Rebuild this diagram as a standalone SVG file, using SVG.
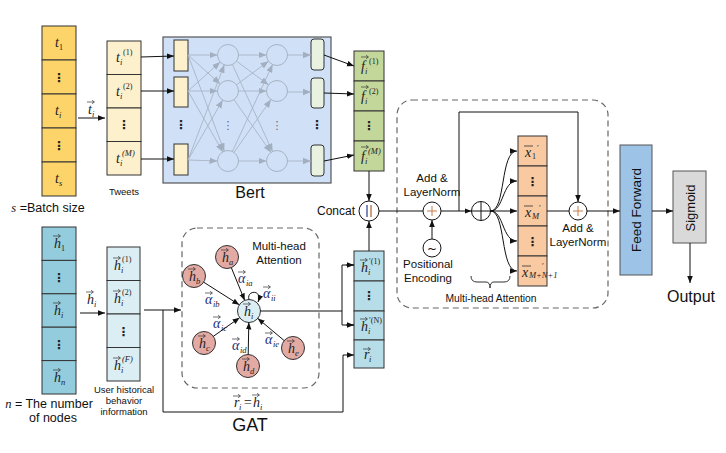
<svg xmlns="http://www.w3.org/2000/svg" xmlns:xlink="http://www.w3.org/1999/xlink" width="726" height="453" viewBox="0 0 726 453">
<defs>
<style>
.bx{stroke:#333;stroke-width:1}
.m{font-family:"Liberation Serif",serif;font-style:italic;font-size:14px;fill:#222}
.s{font-family:"Liberation Serif",serif;font-style:italic;font-size:8.5px;fill:#222}
.su{font-family:"Liberation Serif",serif;font-size:8px;fill:#222}
.al{font-family:"Liberation Serif",serif;font-style:italic;font-size:14px;fill:#1d2f7a}
.d{font-family:"DejaVu Sans",sans-serif;font-size:12px;font-weight:bold;fill:#222;text-anchor:middle}
.dg{font-family:"DejaVu Sans",sans-serif;font-size:11px;fill:#667;text-anchor:middle}
.t{font-family:"Liberation Sans",Arial,sans-serif;fill:#111}
.ln{stroke:#111;stroke-width:1;fill:none}
.gl{stroke:#a9b4c4;stroke-width:0.9;fill:none}
.dash{fill:none;stroke:#666;stroke-width:1.2;stroke-dasharray:6 4}
</style>
<marker id="ah" viewBox="0 0 10 10" refX="10" refY="5" markerWidth="7" markerHeight="7" orient="auto" markerUnits="userSpaceOnUse"><path d="M0,1 L10,5 L0,9 z" fill="#111"/></marker>
<marker id="ag" viewBox="0 0 10 10" refX="10" refY="5" markerWidth="8" markerHeight="8" orient="auto" markerUnits="userSpaceOnUse"><path d="M0,1 L10,5 L0,9 z" fill="#a3afc0"/></marker>
<path id="va" d="M0,0 H7 M5,-1.7 L7.5,0 L5,1.7" fill="none" stroke="#333" stroke-width="0.7"/>
<path id="ov" d="M0,0 H9" fill="none" stroke="#333" stroke-width="0.8"/>
</defs>
<rect width="726" height="453" fill="#fff"/>

<g id="batch-tweets">
<rect class="bx" x="42" y="26" width="34" height="34" fill="#fcd46a"/>
<rect class="bx" x="42" y="60" width="34" height="34" fill="#fcd46a"/>
<rect class="bx" x="42" y="94" width="34" height="34" fill="#fcd46a"/>
<rect class="bx" x="42" y="128" width="34" height="34" fill="#fcd46a"/>
<rect class="bx" x="42" y="162" width="34" height="34" fill="#fcd46a"/>
<text class="m" x="55" y="47">t</text><text class="su" x="59" y="50">1</text>
<text class="d" x="59" y="82">⋮</text>
<text class="m" x="55" y="115">t</text><text class="s" x="59" y="118">i</text>
<text class="d" x="59" y="150">⋮</text>
<text class="m" x="55" y="183">t</text><text class="s" x="59" y="186">s</text>
<text class="t" x="48" y="212" font-size="12.5" text-anchor="middle"><tspan font-family="Liberation Serif" font-style="italic">s</tspan> =Batch size</text>
</g>

<g id="tweets">
<rect class="bx" x="107" y="41" width="34" height="33.5" fill="#fdf0cc"/>
<rect class="bx" x="107" y="74.5" width="34" height="33.5" fill="#fdf0cc"/>
<rect class="bx" x="107" y="108" width="34" height="33.5" fill="#fdf0cc"/>
<rect class="bx" x="107" y="141.5" width="34" height="33.5" fill="#fdf0cc"/>
<text class="m" x="116" y="62">t</text><text class="s" x="120" y="65">i</text><text class="su" x="123" y="55">(1)</text>
<text class="m" x="116" y="96">t</text><text class="s" x="120" y="99">i</text><text class="su" x="123" y="89">(2)</text>
<text class="d" x="124" y="129">⋮</text>
<text class="m" x="116" y="163">t</text><text class="s" x="120" y="166">i</text><text class="s" x="122" y="156">(M)</text>
<text class="t" x="124" y="195" font-size="9.5" text-anchor="middle">Tweets</text>
</g>

<g id="bert">
<rect x="163" y="37" width="168" height="146" fill="#cfe0f7" stroke="#555" stroke-width="1.2"/>
<rect class="bx" x="174" y="40" width="14" height="31" fill="#fdf0cc"/>
<rect class="bx" x="174" y="77" width="14" height="30" fill="#fdf0cc"/>
<rect class="bx" x="174" y="144" width="14" height="31" fill="#fdf0cc"/>
<g fill="none" stroke="#a9b4c4" stroke-width="1">
<circle cx="228" cy="55" r="10.5"/><circle cx="228" cy="91" r="10.5"/><circle cx="228" cy="161" r="10.5"/>
<circle cx="277" cy="55" r="10.5"/><circle cx="277" cy="91" r="10.5"/><circle cx="277" cy="161" r="10.5"/>
</g>
<rect class="bx" x="311" y="39" width="13" height="31" rx="3" fill="#e9f1e1"/>
<rect class="bx" x="311" y="78" width="13" height="30" rx="3" fill="#e9f1e1"/>
<rect class="bx" x="311" y="145" width="13" height="31" rx="3" fill="#e9f1e1"/>
<text class="d" x="181" y="129">⋮</text>
<text class="dg" x="228" y="129">⋮</text>
<text class="dg" x="277" y="129">⋮</text>
<text class="d" x="317" y="129">⋮</text>
<text class="t" x="250" y="198" font-size="16" text-anchor="middle">Bert</text>
</g>

<g id="f-vectors">
<rect class="bx" x="354" y="51" width="30" height="30" fill="#c4d79b"/>
<rect class="bx" x="354" y="81" width="30" height="30" fill="#c4d79b"/>
<rect class="bx" x="354" y="111" width="30" height="30" fill="#c4d79b"/>
<rect class="bx" x="354" y="141" width="30" height="30" fill="#c4d79b"/>
<use href="#va" x="361" y="57"/><text class="m" x="361" y="71">f</text><text class="s" x="365" y="74">i</text><text class="su" x="369" y="64">(1)</text>
<use href="#va" x="361" y="87"/><text class="m" x="361" y="101">f</text><text class="s" x="365" y="104">i</text><text class="su" x="369" y="94">(2)</text>
<text class="d" x="369" y="130">⋮</text>
<use href="#va" x="361" y="147"/><text class="m" x="361" y="161">f</text><text class="s" x="365" y="164">i</text><text class="s" x="368" y="154">(M)</text>
</g>

<g id="concat">
<circle cx="369" cy="211" r="10" fill="#fff" stroke="#111" stroke-width="1"/>
<line x1="367" y1="205" x2="367" y2="217" stroke="#2a3d8f" stroke-width="1.2"/>
<line x1="371" y1="205" x2="371" y2="217" stroke="#b0602a" stroke-width="1.2"/>
<text class="t" x="355" y="215" font-size="12" text-anchor="end">Concat</text>
</g>

<g id="nodes-h">
<rect class="bx" x="42" y="227" width="34" height="33.4" fill="#93cddd"/>
<rect class="bx" x="42" y="260.4" width="34" height="33.4" fill="#93cddd"/>
<rect class="bx" x="42" y="293.8" width="34" height="33.4" fill="#93cddd"/>
<rect class="bx" x="42" y="327.2" width="34" height="33.4" fill="#93cddd"/>
<rect class="bx" x="42" y="360.6" width="34" height="33.4" fill="#93cddd"/>
<use href="#va" x="53" y="236"/><text class="m" x="54" y="248">h</text><text class="su" x="61" y="251">1</text>
<text class="d" x="59" y="282">⋮</text>
<use href="#va" x="53" y="303"/><text class="m" x="54" y="315">h</text><text class="s" x="61" y="318">i</text>
<text class="d" x="59" y="349">⋮</text>
<use href="#va" x="53" y="370"/><text class="m" x="54" y="382">h</text><text class="s" x="61" y="385">n</text>
<text class="t" x="49" y="408" font-size="12.5" text-anchor="middle"><tspan font-family="Liberation Serif" font-style="italic">n</tspan> = The number</text>
<text class="t" x="53" y="422" font-size="12.5" text-anchor="middle">of nodes</text>
</g>

<g id="user-history">
<rect class="bx" x="107" y="247" width="33" height="33.5" fill="#dbeef4"/>
<rect class="bx" x="107" y="280.5" width="33" height="33.5" fill="#dbeef4"/>
<rect class="bx" x="107" y="314" width="33" height="33.5" fill="#dbeef4"/>
<rect class="bx" x="107" y="347.5" width="33" height="33.5" fill="#dbeef4"/>
<use href="#va" x="113" y="258"/><text class="m" x="114" y="270">h</text><text class="s" x="121" y="273">i</text><text class="su" x="122" y="262">(1)</text>
<use href="#va" x="113" y="291"/><text class="m" x="114" y="303">h</text><text class="s" x="121" y="306">i</text><text class="su" x="122" y="295">(2)</text>
<text class="d" x="123.5" y="336">⋮</text>
<use href="#va" x="113" y="358"/><text class="m" x="114" y="370">h</text><text class="s" x="121" y="373">i</text><text class="s" x="122" y="362">(F)</text>
<text class="t" x="124" y="393" font-size="9.5" text-anchor="middle">User historical</text>
<text class="t" x="124" y="404" font-size="9.5" text-anchor="middle">behavior</text>
<text class="t" x="124" y="415" font-size="9.5" text-anchor="middle">information</text>
</g>

<g id="gat">
<rect class="dash" x="182" y="228" width="137" height="160" rx="15"/>
<text class="t" x="279" y="250" font-size="11.5" text-anchor="middle">Multi-head</text>
<text class="t" x="279" y="264" font-size="11.5" text-anchor="middle">Attention</text>
<g stroke="#333" stroke-width="1" fill="#e3aaa3">
<circle cx="227" cy="257" r="11.5"/><circle cx="194" cy="276" r="11.5"/><circle cx="204" cy="343" r="11.5"/><circle cx="248" cy="366" r="11.5"/><circle cx="293" cy="348" r="11.5"/>
</g>
<circle cx="249" cy="311" r="11.5" fill="#dbeef4" stroke="#333" stroke-width="1"/>
<use href="#va" x="221" y="250"/><text class="m" x="222" y="262">h</text><text class="s" x="229" y="265">a</text>
<use href="#va" x="188" y="269"/><text class="m" x="189" y="281">h</text><text class="s" x="196" y="284">b</text>
<use href="#va" x="198" y="336"/><text class="m" x="199" y="348">h</text><text class="s" x="206" y="351">c</text>
<use href="#va" x="242" y="359"/><text class="m" x="243" y="371">h</text><text class="s" x="250" y="374">d</text>
<use href="#va" x="287" y="341"/><text class="m" x="288" y="353">h</text><text class="s" x="295" y="356">e</text>
<use href="#va" x="243" y="304"/><text class="m" x="244" y="316">h</text><text class="s" x="251" y="319">i</text>
<use href="#va" x="238" y="272"/><text class="al" x="238" y="283">α</text><text class="s" x="246" y="286">ia</text>
<use href="#va" x="205" y="293"/><text class="al" x="205" y="304">α</text><text class="s" x="213" y="307">ib</text>
<use href="#va" x="213" y="317"/><text class="al" x="213" y="328">α</text><text class="s" x="221" y="331">ic</text>
<use href="#va" x="232" y="339"/><text class="al" x="232" y="350">α</text><text class="s" x="240" y="353">id</text>
<use href="#va" x="265" y="333"/><text class="al" x="265" y="344">α</text><text class="s" x="273" y="347">ie</text>
<use href="#va" x="263" y="287"/><text class="al" x="263" y="298">α</text><text class="s" x="271" y="301">ii</text>
<text class="t" x="250" y="431" font-size="18" text-anchor="middle">GAT</text>
</g>

<g id="gat-output">
<rect class="bx" x="354" y="251" width="30" height="30" fill="#b6dde8"/>
<rect class="bx" x="354" y="281" width="30" height="30" fill="#b6dde8"/>
<rect class="bx" x="354" y="311" width="30" height="29" fill="#b6dde8"/>
<rect class="bx" x="354" y="340" width="30" height="28" fill="#b6dde8"/>
<use href="#va" x="360" y="260"/><text class="m" x="361" y="272">h</text><text class="s" x="368" y="275">i</text><text class="su" x="369" y="264">′(1)</text>
<text class="d" x="369" y="300">⋮</text>
<use href="#va" x="360" y="319"/><text class="m" x="361" y="331">h</text><text class="s" x="368" y="334">i</text><text class="su" x="369" y="323">′(N)</text>
<use href="#va" x="363" y="349"/><text class="m" x="364" y="359">r</text><text class="s" x="369" y="362">i</text>
</g>

<g id="transformer">
<rect class="dash" x="397" y="100" width="211" height="208" rx="15"/>
<circle cx="432" cy="211" r="9" fill="#fff" stroke="#111"/>
<path d="M427,211 H437 M432,206 V216" stroke="#c77a4a" stroke-width="1"/>
<circle cx="432" cy="248" r="9" fill="#fff" stroke="#111"/>
<text x="432" y="253" font-family="DejaVu Sans,sans-serif" font-size="12" text-anchor="middle" fill="#111">~</text>
<text class="t" x="432" y="182" font-size="11.5" text-anchor="middle">Add &amp;</text>
<text class="t" x="432" y="196" font-size="11.5" text-anchor="middle">LayerNorm</text>
<text class="t" x="428" y="268" font-size="11.5" text-anchor="middle">Positional</text>
<text class="t" x="428" y="282" font-size="11.5" text-anchor="middle">Encoding</text>
<circle cx="481" cy="211" r="9.5" fill="#fff" stroke="#111"/>
<path d="M471.5,211 H490.5 M481,201.5 V220.5" stroke="#111" stroke-width="1"/>
<rect class="bx" x="518" y="136" width="29" height="30" fill="#f9c9a1"/>
<rect class="bx" x="518" y="166" width="29" height="30" fill="#f9c9a1"/>
<rect class="bx" x="518" y="196" width="29" height="30" fill="#f9c9a1"/>
<rect class="bx" x="518" y="226" width="29" height="30" fill="#f9c9a1"/>
<rect class="bx" x="518" y="256" width="29" height="30" fill="#f9c9a1"/>
<use href="#ov" x="524" y="146"/><text class="m" x="525" y="157">x</text><text class="su" x="532" y="159">1</text><text class="su" x="537" y="151">′</text>
<text class="d" x="532.5" y="186">⋮</text>
<use href="#ov" x="524" y="206"/><text class="m" x="525" y="217">x</text><text class="s" x="532" y="219">M</text><text class="su" x="539" y="211">′</text>
<text class="d" x="532.5" y="246">⋮</text>
<use href="#ov" x="522" y="266"/><text class="m" x="522" y="277">x</text><text class="s" x="529" y="278" font-size="5">M+N+1</text><text class="su" x="542" y="269">′</text>
<circle cx="578" cy="211" r="9" fill="#fff" stroke="#111"/>
<path d="M573,211 H583 M578,206 V216" stroke="#c77a4a" stroke-width="1"/>
<text class="t" x="578" y="232" font-size="11.5" text-anchor="middle">Add &amp;</text>
<text class="t" x="578" y="246" font-size="11.5" text-anchor="middle">LayerNorm</text>
<path d="M471,276 Q471,282 477,282 H486 Q490,282 490,288 Q490,282 494,282 H504 Q510,282 510,276" fill="none" stroke="#333" stroke-width="1"/>
<text class="t" x="491" y="302" font-size="10.3" text-anchor="middle">Multi-head Attention</text>
</g>

<g id="feed-forward">
<rect x="620" y="145" width="32" height="130" fill="#9dc3e6" stroke="#555" stroke-width="1"/>
<text class="t" transform="translate(641,210) rotate(-90)" font-size="13.5" text-anchor="middle">Feed Forward</text>
</g>
<g id="sigmoid">
<rect x="673" y="171" width="33" height="72" fill="#d9d9d9" stroke="#555" stroke-width="1"/>
<text class="t" transform="translate(694.5,208) rotate(-90)" font-size="13" text-anchor="middle">Sigmoid</text>
</g>
<g id="output">
<text class="t" x="691" y="302" font-size="16" text-anchor="middle">Output</text>
</g>

<g id="connectors">
<line class="ln" x1="78" y1="118" x2="105" y2="118" marker-end="url(#ah)"/>
<use href="#va" x="87" y="102"/><text class="m" x="88" y="114">t</text><text class="s" x="92" y="117">i</text>
<line class="ln" x1="141" y1="57" x2="174" y2="56" marker-end="url(#ah)"/>
<line class="ln" x1="141" y1="91" x2="174" y2="91" marker-end="url(#ah)"/>
<line class="ln" x1="141" y1="159" x2="174" y2="159" marker-end="url(#ah)"/>
<g class="gl">
<line x1="188" y1="55" x2="217.5" y2="55" marker-end="url(#ag)"/>
<line x1="188" y1="55" x2="220.2" y2="84" marker-end="url(#ag)"/>
<line x1="188" y1="55" x2="224.3" y2="151.2" marker-end="url(#ag)"/>
<line x1="188" y1="91" x2="220.2" y2="62" marker-end="url(#ag)"/>
<line x1="188" y1="91" x2="217.5" y2="91" marker-end="url(#ag)"/>
<line x1="188" y1="91" x2="222.8" y2="151.9" marker-end="url(#ag)"/>
<line x1="188" y1="160" x2="224.3" y2="64.8" marker-end="url(#ag)"/>
<line x1="188" y1="160" x2="222.7" y2="100.1" marker-end="url(#ag)"/>
<line x1="188" y1="160" x2="217.5" y2="161" marker-end="url(#ag)"/>
<line x1="238.5" y1="55" x2="266.5" y2="55" marker-end="url(#ag)"/>
<line x1="236.5" y1="61.2" x2="268.5" y2="84.8" marker-end="url(#ag)"/>
<line x1="232.4" y1="64.5" x2="272.6" y2="151.5" marker-end="url(#ag)"/>
<line x1="236.5" y1="84.8" x2="268.5" y2="61.2" marker-end="url(#ag)"/>
<line x1="238.5" y1="91" x2="266.5" y2="91" marker-end="url(#ag)"/>
<line x1="234" y1="99.6" x2="271" y2="152.4" marker-end="url(#ag)"/>
<line x1="232.4" y1="151.5" x2="272.6" y2="64.5" marker-end="url(#ag)"/>
<line x1="234" y1="152.4" x2="271" y2="99.6" marker-end="url(#ag)"/>
<line x1="238.5" y1="161" x2="266.5" y2="161" marker-end="url(#ag)"/>
<line x1="287.5" y1="55" x2="311" y2="55" marker-end="url(#ag)"/>
<line x1="287.5" y1="92" x2="311" y2="92" marker-end="url(#ag)"/>
<line x1="287.5" y1="161" x2="311" y2="161" marker-end="url(#ag)"/>
</g>
<line class="ln" x1="324" y1="55" x2="354" y2="66" marker-end="url(#ah)"/>
<line class="ln" x1="324" y1="93" x2="354" y2="94" marker-end="url(#ah)"/>
<line class="ln" x1="324" y1="161" x2="354" y2="155" marker-end="url(#ah)"/>
<line class="ln" x1="369" y1="171" x2="369" y2="201" marker-end="url(#ah)"/>
<line class="ln" x1="369" y1="251" x2="369" y2="221" marker-end="url(#ah)"/>
<line class="ln" x1="379" y1="211" x2="423" y2="211"/>
<line class="ln" x1="432" y1="239" x2="432" y2="220" marker-end="url(#ah)"/>
<line class="ln" x1="441" y1="211" x2="471.5" y2="211" marker-end="url(#ah)"/>
<polyline class="ln" points="459,211 459,112 578,112 578,202" marker-end="url(#ah)"/>
<path class="ln" d="M490.5,211 C506,211 500,151 517,151" marker-end="url(#ah)"/>
<path class="ln" d="M490.5,211 C504,211 502,181 517,181" marker-end="url(#ah)"/>
<line class="ln" x1="490.5" y1="211" x2="517" y2="211" marker-end="url(#ah)"/>
<path class="ln" d="M490.5,211 C504,211 502,241 517,241" marker-end="url(#ah)"/>
<path class="ln" d="M490.5,211 C506,211 500,271 517,271" marker-end="url(#ah)"/>
<line class="ln" x1="547" y1="211" x2="569" y2="211"/>
<line class="ln" x1="587" y1="211" x2="620" y2="211" marker-end="url(#ah)"/>
<line class="ln" x1="652" y1="211" x2="673" y2="211" marker-end="url(#ah)"/>
<line class="ln" x1="690" y1="243" x2="690" y2="283" marker-end="url(#ah)"/>
<line class="ln" x1="80" y1="313" x2="105" y2="313" marker-end="url(#ah)"/>
<use href="#va" x="86" y="292"/><text class="m" x="87" y="304">h</text><text class="s" x="94" y="307">i</text>
<line class="ln" x1="144" y1="310" x2="181" y2="310" marker-end="url(#ah)"/>
<polyline class="ln" points="163,310 163,412 343,412 343,355 354,355" marker-end="url(#ah)"/>
<use href="#va" x="233" y="396"/><text class="m" x="234" y="407">r</text><text class="s" x="239" y="410">i</text>
<text class="m" x="243" y="407" font-style="normal">=</text>
<use href="#va" x="252" y="395"/><text class="m" x="253" y="407">h</text><text class="s" x="260" y="410">i</text>
<line class="ln" x1="231.3" y1="267.6" x2="244.7" y2="300.4" marker-end="url(#ah)"/>
<line class="ln" x1="203.7" y1="282.2" x2="239.3" y2="304.8" marker-end="url(#ah)"/>
<line class="ln" x1="213.4" y1="336.3" x2="239.6" y2="317.7" marker-end="url(#ah)"/>
<line class="ln" x1="248.2" y1="354.5" x2="248.8" y2="322.5" marker-end="url(#ah)"/>
<line class="ln" x1="284.2" y1="340.6" x2="257.8" y2="318.4" marker-end="url(#ah)"/>
<path class="ln" d="M249,299.5 C246,290 263,289 258,302" marker-end="url(#ah)"/>
<line class="ln" x1="260.5" y1="311" x2="342" y2="311" stroke-width="1.3"/>
<polyline class="ln" points="354,265 342,265 342,325 354,325"/>
<line class="ln" x1="346" y1="265" x2="354" y2="265" marker-end="url(#ah)"/>
<line class="ln" x1="346" y1="325" x2="354" y2="325" marker-end="url(#ah)"/>
</g>
</svg>
